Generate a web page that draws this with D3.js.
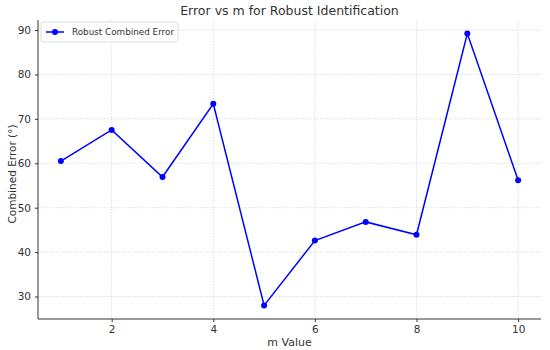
<!DOCTYPE html>
<html><head><meta charset="utf-8">
<script src="https://cdn.jsdelivr.net/npm/d3@7"></script>
<style>body{margin:0;background:#fff;} text{font-family:"DejaVu Sans",sans-serif;}</style>
</head><body><svg id="c" width="550" height="350"></svg>
<script>
const mValues = [1,2,3,4,5,6,7,8,9,10];
const combinedError = [60.5,67.5,56.9,73.4,28.0,42.6,46.8,43.9,89.2,56.2];
const xTicks = [2,4,6,8,10];
const yTicks = [30,40,50,60,70,80,90];
const seriesName = "Robust Combined Error";

const svg = d3.select("#c");
const L=38, R=541, T=20, B=319;
const x = d3.scaleLinear().domain([0.55,10.45]).range([L,R]);
const y = d3.scaleLinear().domain([24.94,92.26]).range([B,T]);
const txt="#333";

const g = svg.append("g");
g.selectAll(".gx").data(xTicks).join("line").attr("x1",d=>x(d)).attr("x2",d=>x(d)).attr("y1",T).attr("y2",B)
 .attr("stroke","#d6d6d6").attr("stroke-width",0.8).attr("stroke-dasharray","1.5,1.5");
g.selectAll(".gy").data(yTicks).join("line").attr("y1",d=>y(d)).attr("y2",d=>y(d)).attr("x1",L).attr("x2",R)
 .attr("stroke","#d6d6d6").attr("stroke-width",0.8).attr("stroke-dasharray","1.5,1.5");

const xa = svg.append("g").attr("transform",`translate(0,${B})`).call(d3.axisBottom(x).tickValues(xTicks).tickSize(3).tickPadding(4).tickFormat(d3.format("d")));
const ya = svg.append("g").attr("transform",`translate(${L},0)`).call(d3.axisLeft(y).tickValues(yTicks).tickSize(3).tickPadding(4).tickFormat(d3.format("d")));
[xa,ya].forEach(a=>{
  a.select(".domain").attr("stroke","#333").attr("stroke-width",1);
  a.selectAll(".tick line").attr("stroke","#333");
  a.selectAll(".tick text").attr("fill",txt).attr("font-size",10.5).attr("font-family","DejaVu Sans");
});
xa.select(".domain").attr("d",`M${L},0H${R}`);
ya.select(".domain").attr("d",`M0,${T}V${B}`);

const line = d3.line().x((d,i)=>x(mValues[i])).y(d=>y(d));
svg.append("path").datum(combinedError).attr("d",line).attr("fill","none").attr("stroke","#0000ff").attr("stroke-width",1.5);
svg.selectAll(".pt").data(combinedError).join("circle").attr("cx",(d,i)=>x(mValues[i])).attr("cy",d=>y(d)).attr("r",3).attr("fill","#0000ff");

svg.append("text").attr("x",(L+R)/2).attr("y",14.5).attr("text-anchor","middle").attr("font-size",12.5).attr("fill",txt).text("Error vs m for Robust Identification");
svg.append("text").attr("x",(L+R)/2).attr("y",346).attr("text-anchor","middle").attr("font-size",11).attr("fill",txt).text("m Value");
svg.append("text").attr("transform",`translate(16,${174}) rotate(-90)`).attr("text-anchor","middle").attr("font-size",10.5).attr("fill",txt).text("Combined Error (°)");

const lg = svg.append("g");
lg.append("rect").attr("x",41).attr("y",22).attr("width",137).attr("height",20).attr("rx",2).attr("fill","#fff").attr("fill-opacity",0.8).attr("stroke","#ddd");
lg.append("line").attr("x1",46).attr("x2",64).attr("y1",32).attr("y2",32).attr("stroke","#0000ff").attr("stroke-width",1.5);
lg.append("circle").attr("cx",55).attr("cy",32).attr("r",3).attr("fill","#0000ff");
lg.append("text").attr("x",72).attr("y",35.3).attr("font-size",8.8).attr("fill",txt).text(seriesName);
</script></body></html>
